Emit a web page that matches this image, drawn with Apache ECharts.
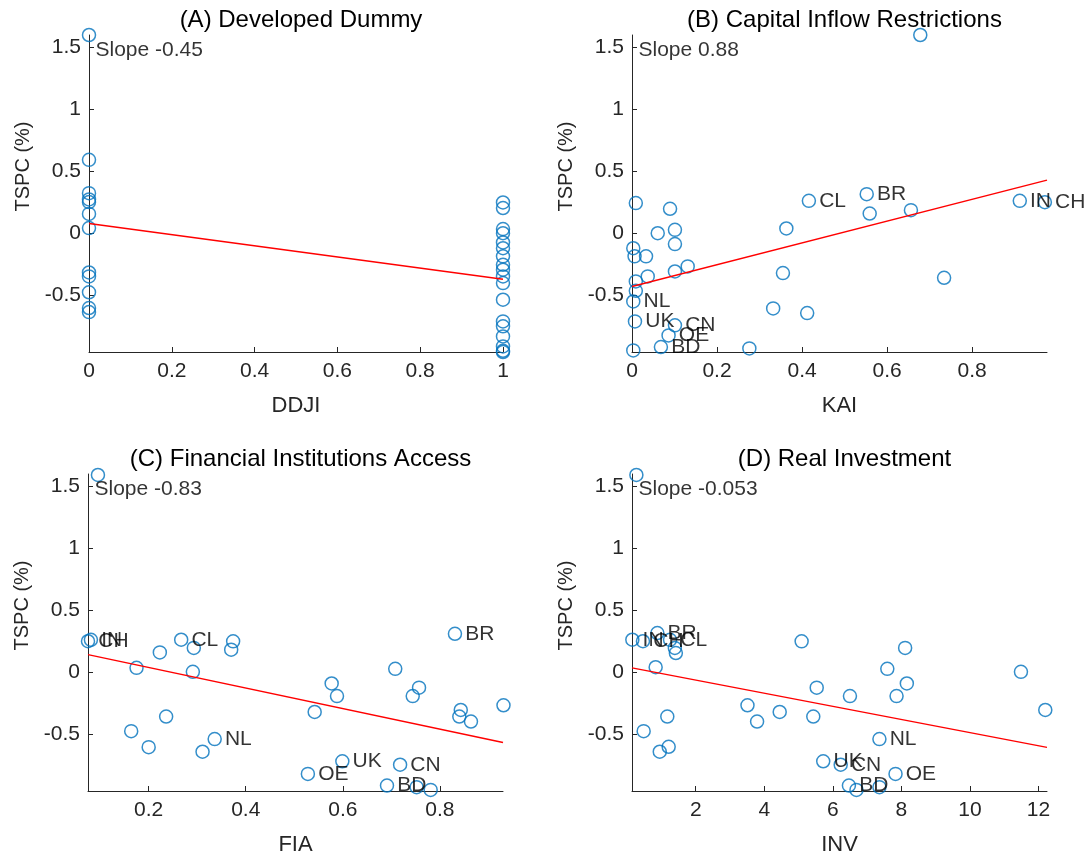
<!DOCTYPE html>
<html><head><meta charset="utf-8">
<script src="https://cdn.jsdelivr.net/npm/echarts@6/dist/echarts.min.js"></script>
<style>html,body{margin:0;padding:0;background:#fff}#c{width:1089px;height:857px}</style>
</head><body><div id="c"></div>
<script>
// ---------- data ----------
const titles = ['(A) Developed Dummy', '(B) Capital Inflow Restrictions', '(C) Financial Institutions Access', '(D) Real Investment'];
const xNames = ['DDJI', 'KAI', 'FIA', 'INV'];
const yName = 'TSPC (%)';

// Panel A
const ddjiX = [0,0,0,0,0,0,0,0,0,0,0,0, 1,1,1,1,1,1,1,1,1,1,1,1,1,1,1,1,1,1];
const ddjiY = [1.597,0.589,0.32,0.27,0.248,0.153,0.038,-0.32,-0.352,-0.48,-0.607,-0.64,
  0.245,0.2,0.03,-0.003,-0.078,-0.124,-0.19,-0.258,-0.298,-0.352,-0.406,-0.54,-0.715,-0.755,-0.836,-0.917,-0.952,-0.962];
const ddjiLabels = [];

// Panel B
const kaiX = [0.678,0.416,0.552,0.559,0.656,0.912,0.971,0.363,0.355,0.734,0.332,0.412,0.276,
  0.009,0.0895,0.0605,0.101,0.101,0.003,0.006,0.033,0.131,0.101,0.037,0.009,0.009,0.003,0.007,0.101,0.086,0.068,0.003];
const kaiY = [1.597,0.258,0.312,0.156,0.183,0.258,0.247,0.035,-0.325,-0.363,-0.610,-0.648,-0.933,
  0.24,0.194,-0.003,0.024,-0.091,-0.124,-0.19,-0.19,-0.271,-0.312,-0.352,-0.392,-0.468,-0.554,-0.715,-0.747,-0.828,-0.922,-0.949];
const kaiLabels = ['','CL','BR','','','IN','CH','','','','','','',
  '','','','','','','','','','','','','','NL','UK','CN','OE','BD',''];

// Panel C
const fiaX = [0.0955,0.081,0.075,0.267,0.293,0.374,0.370,0.223,0.175,0.291,0.236,0.164,0.2,0.336,0.311,
  0.831,0.708,0.577,0.588,0.757,0.744,0.542,0.843,0.840,0.864,0.931,0.599,0.528,0.718,0.691,0.752,0.781];
const fiaY = [1.589,0.258,0.247,0.259,0.193,0.246,0.179,0.157,0.032,0.0,-0.361,-0.479,-0.608,-0.543,-0.645,
  0.307,0.024,-0.094,-0.196,-0.128,-0.196,-0.324,-0.308,-0.361,-0.401,-0.27,-0.722,-0.824,-0.75,-0.918,-0.931,-0.953];
const fiaLabels = ['','IN','CH','CL','','','','','','','','','','NL','',
  'BR','','','','','','','','','','','UK','OE','CN','BD','',''];

// Panel D
const invX = [0.268,0.15,0.46,0.88,1.25,1.39,1.42,0.83,5.09,8.11,7.59,11.49,8.16,5.53,6.5,7.86,3.51,4.45,5.43,3.79,12.2,
  1.17,0.48,0.95,1.21,7.36,5.72,6.23,7.83,6.47,6.69,7.36];
const invY = [1.589,0.259,0.247,0.313,0.258,0.193,0.152,0.037,0.246,0.193,0.024,0.0,-0.094,-0.128,-0.196,-0.196,-0.27,-0.324,-0.361,-0.401,-0.308,
  -0.361,-0.479,-0.645,-0.605,-0.543,-0.722,-0.75,-0.824,-0.918,-0.953,-0.931];
const invLabels = ['','IN','CH','BR','CL','','','','','','','','','','','','','','','','',
  '','','','','NL','UK','CN','OE','BD','',''];

// fitted lines (slope, intercept) and axis limits / ticks
const fitSlopes = [-0.45, 0.88, -0.83, -0.053];
const fitIntercepts = [0.075, -0.433, 0.201, 0.0394];
const xMins = [0, 0, 0.075, 0.14];
const xMaxs = [1, 0.976, 0.93, 12.25];
const xTicksA = [0, 0.2, 0.4, 0.6, 0.8, 1];
const xTicksB = [0, 0.2, 0.4, 0.6, 0.8];
const xTicksC = [0.2, 0.4, 0.6, 0.8];
const xTicksD = [2, 4, 6, 8, 10, 12];
const yTicks = [-0.5, 0, 0.5, 1, 1.5];
const yMin = -0.962, yMax = 1.597;

// ---------- chart ----------
const panels = [
  {x: ddjiX, y: ddjiY, lab: ddjiLabels, ticks: xTicksA},
  {x: kaiX, y: kaiY, lab: kaiLabels, ticks: xTicksB},
  {x: fiaX, y: fiaY, lab: fiaLabels, ticks: xTicksC},
  {x: invX, y: invY, lab: invLabels, ticks: xTicksD}
];
const grids = [
  {left: 89, top: 35, width: 414, height: 317},
  {left: 632, top: 35, width: 415, height: 317},
  {left: 88, top: 474, width: 415, height: 317},
  {left: 632, top: 474, width: 415, height: 317}
];
const FONT = 'Liberation Sans, Arial, Helvetica, sans-serif';
const axisCol = '#262626';
const fmt = v => String(+(+v).toFixed(4));

const option = {
  animation: false,
  backgroundColor: '#fff',
  textStyle: {fontFamily: FONT},
  title: grids.map((g, i) => ({
    text: titles[i], left: g.left + g.width / 2, top: g.top - 32, textAlign: 'center',
    textStyle: {fontFamily: FONT, fontSize: 24, fontWeight: 'normal', color: '#000'}
  })),
  grid: grids.map(g => Object.assign({containLabel: false}, g)),
  xAxis: panels.map((p, i) => ({
    gridIndex: i, type: 'value', min: xMins[i], max: xMaxs[i],
    name: xNames[i], nameLocation: 'middle', nameGap: 43,
    nameTextStyle: {fontFamily: FONT, fontSize: 22, color: axisCol},
    axisLine: {onZero: false, lineStyle: {color: axisCol, width: 1}},
    axisTick: {inside: true, length: 5, customValues: p.ticks, lineStyle: {color: axisCol}},
    axisLabel: {customValues: p.ticks, formatter: fmt, fontFamily: FONT, fontSize: 21, color: axisCol, margin: 9},
    splitLine: {show: false}
  })),
  yAxis: panels.map((p, i) => ({
    gridIndex: i, type: 'value', min: yMin, max: yMax,
    name: yName, nameLocation: 'middle', nameGap: 56, nameRotate: 90,
    nameTextStyle: {fontFamily: FONT, fontSize: 20, color: axisCol, padding: [0, 0, 0, 54]},
    axisLine: {show: true, onZero: false, lineStyle: {color: axisCol, width: 1}},
    axisTick: {show: true, inside: true, length: 5, customValues: yTicks, lineStyle: {color: axisCol}},
    axisLabel: {customValues: yTicks, formatter: fmt, fontFamily: FONT, fontSize: 21, color: axisCol, margin: 8},
    splitLine: {show: false}
  })),
  series: []
};

panels.forEach((p, i) => {
  option.series.push({
    type: 'scatter', xAxisIndex: i, yAxisIndex: i, clip: false, silent: true,
    symbol: 'circle', symbolSize: 13,
    itemStyle: {color: 'rgba(0,0,0,0)', borderColor: '#0072BD', borderWidth: 1.5},
    label: {show: false, position: 'right', distance: 3, formatter: '{b}', fontFamily: FONT, fontSize: 21, color: '#000'},
    data: p.x.map((xv, k) => {
      const nm = p.lab[k] || '';
      return {name: nm, value: [xv, p.y[k]], label: {show: nm !== ''}};
    })
  });
  const x0 = xMins[i], x1 = xMaxs[i];
  option.series.push({
    type: 'line', xAxisIndex: i, yAxisIndex: i, silent: true, symbol: 'none',
    lineStyle: {color: '#FF0000', width: 1.4},
    data: [[x0, fitIntercepts[i] + fitSlopes[i] * x0], [x1, fitIntercepts[i] + fitSlopes[i] * x1]]
  });
  option.series.push({
    type: 'scatter', xAxisIndex: i, yAxisIndex: i, silent: true, clip: false,
    symbolSize: 1, itemStyle: {color: 'rgba(0,0,0,0)'},
    label: {show: true, position: [7, 16], align: 'left', verticalAlign: 'middle',
      formatter: 'Slope ' + String(fitSlopes[i]), fontFamily: FONT, fontSize: 21, color: '#000'},
    data: [[xMins[i], yMax]]
  });
});

const chart = echarts.init(document.getElementById('c'), null, {renderer: 'canvas'});
chart.setOption(option);
</script>
</body></html>
